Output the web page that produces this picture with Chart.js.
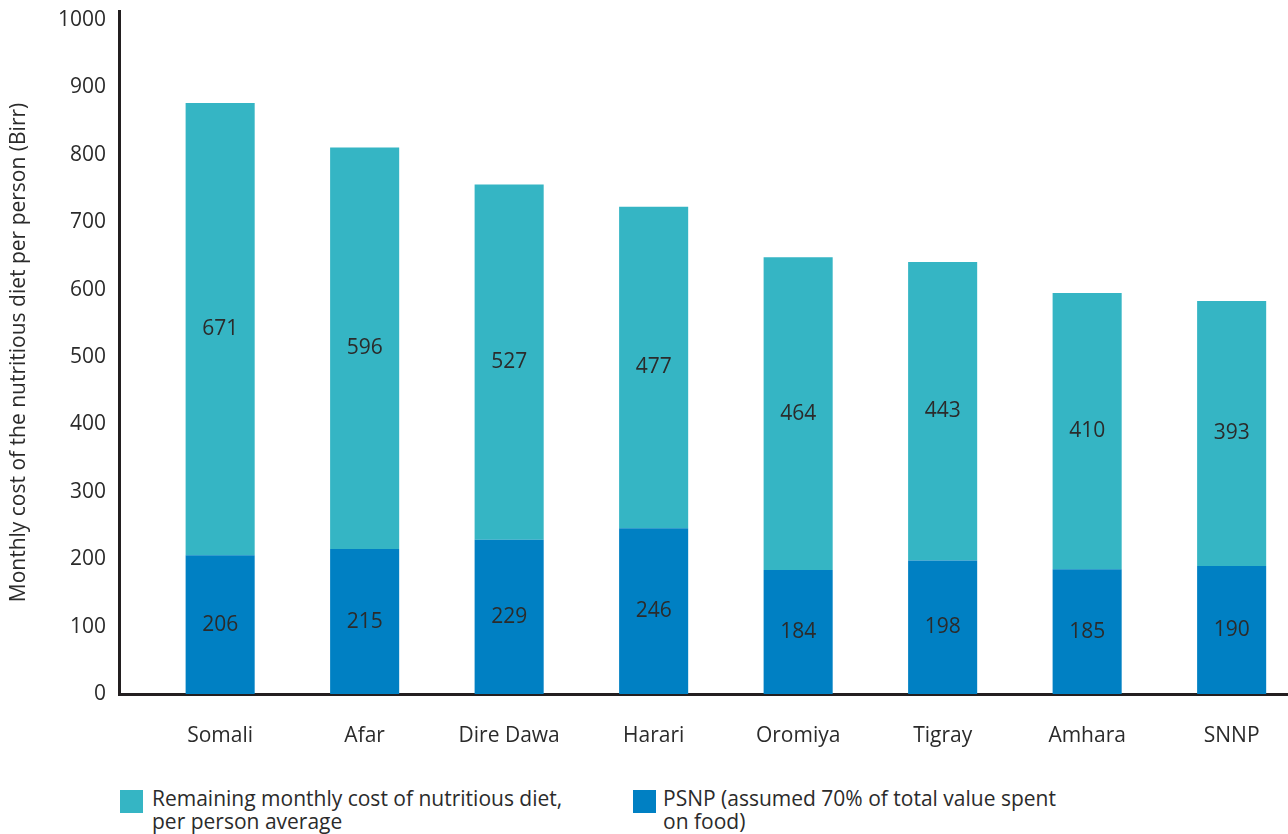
<!DOCTYPE html>
<html lang="en">
<meta charset="utf-8" />
<title>Monthly cost of nutritious diet vs PSNP</title>
<script src="https://cdn.jsdelivr.net/npm/chart.js@4.4.1"></script>
<style>
*{box-sizing:border-box}
body{margin:0;background:#fff;width:1288px;height:834px;overflow:hidden;position:relative;font-family:"Open Sans",sans-serif;color:#2b2b2b}
#wrap{position:absolute;left:0;top:0;width:1288px;height:770px}
.leg{position:absolute;top:787px;font-size:21px;line-height:23px;white-space:nowrap}
.leg i{position:absolute;left:0;top:3px;width:23px;height:23px}
.leg span{display:block;padding-left:32px}
</style>
<body>
<div id="wrap"><canvas id="chart"></canvas></div>
<div class="leg" style="left:120px"><i style="background:#35b5c4"></i><span>Remaining monthly cost of nutritious diet,<br>per person average</span></div>
<div class="leg" style="left:633px"><i style="background:#0080c3"></i><span style="padding-left:30px">PSNP (assumed 70% of total value spent<br>on food)</span></div>
<script>
// regions, ordered as in the source figure
const regions   = ['Somali','Afar','Dire Dawa','Harari','Oromiya','Tigray','Amhara','SNNP'];
// PSNP transfer (70% spent on food), Birr / person / month
const psnp      = [206, 215, 229, 246, 184, 198, 185, 190];
// remaining monthly cost of nutritious diet
const remaining = [671, 596, 527, 477, 464, 443, 410, 393];
const yTicks    = [0,100,200,300,400,500,600,700,800,900,1000];

const INK = '#2b2b2b';
const FONT = { family:'"Open Sans", sans-serif', size:21 };

// value labels in the middle of each segment
const valueLabels = {
  id:'valueLabels',
  afterDatasetsDraw(chart){
    const ctx = chart.ctx;
    ctx.save();
    ctx.fillStyle = INK;
    ctx.font = `${FONT.size}px ${FONT.family}`;
    ctx.textAlign = 'center';
    ctx.textBaseline = 'middle';
    chart.data.datasets.forEach((ds, di) => {
      chart.getDatasetMeta(di).data.forEach((bar, i) => {
        ctx.fillText(ds.data[i].y, bar.x, (bar.y + bar.base) / 2);
      });
    });
    ctx.restore();
  }
};

new Chart(document.getElementById('chart'), {
  type:'bar',
  data:{
    datasets:[
      { label:'PSNP (assumed 70% of total value spent on food)',
        data: psnp.map((v,i)=>({x:i, y:v})), backgroundColor:'#0080c3' },
      { label:'Remaining monthly cost of nutritious diet, per person average',
        data: remaining.map((v,i)=>({x:i, y:v})), backgroundColor:'#35b5c4' }
    ]
  },
  options:{
    responsive:true,
    maintainAspectRatio:false,
    animation:false,
    layout:{ padding:{ top:11, right:0, left:0, bottom:0 } },
    datasets:{ bar:{ categoryPercentage:1, barPercentage:0.478 } },
    plugins:{ legend:{ display:false }, tooltip:{ enabled:false } },
    scales:{
      x:{
        type:'linear', stacked:true, min:-0.7, max:7.39, offset:false,
        grid:{ display:false, drawTicks:false },
        border:{ color:'#231f20', width:3 },
        afterBuildTicks(s){ s.ticks = regions.map((_,i)=>({value:i})); },
        ticks:{ color:INK, font:FONT, padding:29, autoSkip:false, maxRotation:0,
                callback:v => regions[v] },
        afterFit(s){ s.height = 76; s.paddingLeft = 0; s.paddingRight = 0; }
      },
      y:{
        stacked:true, min:0, max:1013.4,
        grid:{ display:false, drawTicks:false },
        border:{ color:'#231f20', width:3 },
        afterBuildTicks(s){ s.ticks = yTicks.map(v=>({value:v})); },
        ticks:{ color:INK, font:FONT, padding:13, callback:v => String(v) },
        title:{ display:true, text:'Monthly cost of the nutritious diet per person (Birr)',
                color:INK, font:FONT, padding:{top:6, bottom:0} },
        afterFit(s){ s.width = 119; s.paddingTop = 0; s.paddingBottom = 0; }
      }
    }
  },
  plugins:[valueLabels]
});
</script>
</body>
</html>
